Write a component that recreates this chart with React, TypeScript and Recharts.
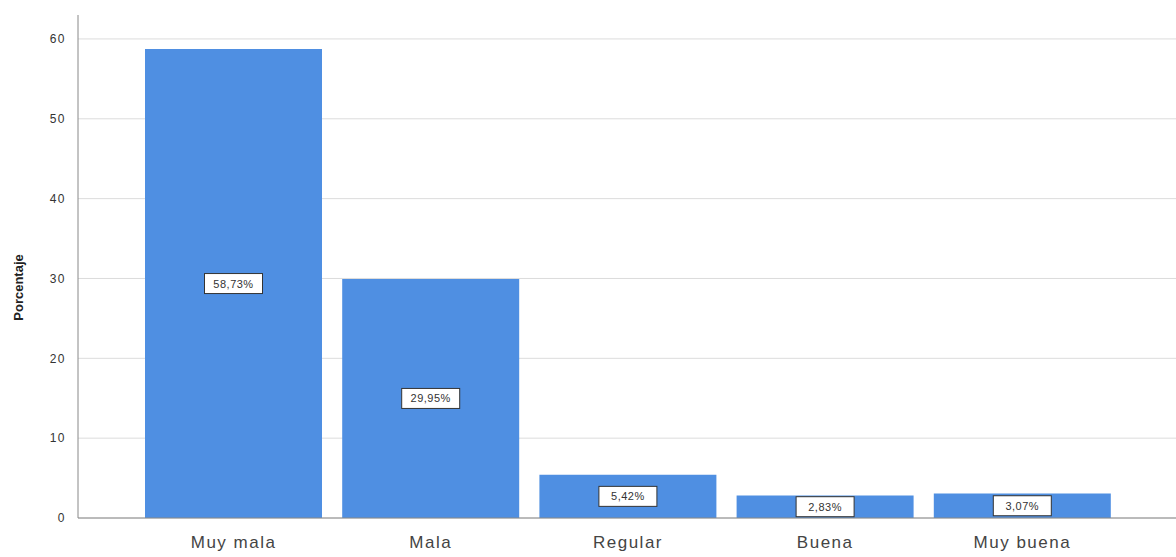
import { BarChart, Bar, XAxis, YAxis, CartesianGrid, LabelList } from "recharts";

const categories = ["Muy mala", "Mala", "Regular", "Buena", "Muy buena"];
const percentages = [58.73, 29.95, 5.42, 2.83, 3.07];
const yTicks = [0, 10, 20, 30, 40, 50, 60];

const data = categories.map((name, i) => ({ name, value: percentages[i] }));

const fmt = (v: number) => v.toFixed(2).replace(".", ",") + "%";
const FONT = "'Liberation Sans', Arial, sans-serif";

// white boxed label in the middle of each bar
const BoxLabel = (props: any) => {
  const { x, y, width, height, value } = props;
  const cx = x + width / 2;
  const cy = y + height / 2;
  const w = 58;
  const h = 20;
  return (
    <g>
      <rect x={cx - w / 2} y={cy - h / 2} width={w} height={h} fill="#fff" stroke="#333" strokeWidth={1} />
      <text x={cx} y={cy + 4} textAnchor="middle" fontSize={11} letterSpacing={0.5} fill="#333" fontFamily={FONT}>
        {fmt(value)}
      </text>
    </g>
  );
};

// rotated axis title, sits a little below the plot's middle like the SPSS output
const AxisTitle = (props: any) => {
  const { viewBox } = props;
  const tx = viewBox.x + 15;
  const ty = viewBox.y + viewBox.height / 2 + 21;
  return (
    <text
      x={tx}
      y={ty}
      transform={`rotate(-90, ${tx}, ${ty})`}
      textAnchor="middle"
      fontSize={13}
      fontWeight="bold"
      fill="#222"
      fontFamily={FONT}
    >
      Porcentaje
    </text>
  );
};

export default function App() {
  return (
    <div style={{ position: "absolute", top: 0, left: 0, width: 1176, height: 557, background: "#fff" }}>
      <BarChart
        width={1176}
        height={557}
        data={data}
        margin={{ top: 15, right: 0, left: 8, bottom: 0 }}
        barCategoryGap={10}
      >
        <CartesianGrid vertical={false} stroke="#dcdcdc" syncWithTicks />
        <XAxis
          dataKey="name"
          padding={{ left: 57, right: 55 }}
          tickLine={false}
          stroke="#888"
          height={39}
          tick={{ fill: "#444", fontSize: 17, letterSpacing: 1.5, fontFamily: FONT }}
          tickMargin={12}
        />
        <YAxis
          domain={[0, 63]}
          ticks={yTicks}
          width={70}
          tickLine={false}
          stroke="#888"
          tick={{ fill: "#333", fontSize: 12, letterSpacing: 1.5, fontFamily: FONT }}
          tickMargin={6}
          label={{ content: AxisTitle }}
        />
        <Bar dataKey="value" fill="#4f8fe2" isAnimationActive={false}>
          <LabelList dataKey="value" content={BoxLabel} />
        </Bar>
      </BarChart>
    </div>
  );
}
